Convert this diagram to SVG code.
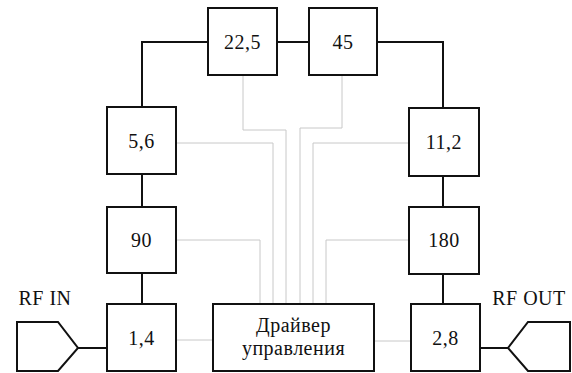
<svg xmlns="http://www.w3.org/2000/svg" width="572" height="373" viewBox="0 0 572 373">
<style>
.box{fill:#fff;stroke:#111;stroke-width:2}
.main{fill:none;stroke:#111;stroke-width:2}
.ctl{fill:none;stroke:#c8c8c8;stroke-width:1}
.t{font-size:20px;fill:#111;text-anchor:middle;letter-spacing:0.5px}
</style>
<rect width="572" height="373" fill="#fff"/>
<g id="connectors">
<path class="main" d="M142,304 V273 M142,207 V174 M142,107 V42 H208 M277,42 H309 M377,42 H443 V108 M443,176 V207 M443,274 V304"/>
<path class="main" d="M78,348 H107 M480,348 H508"/>
<path class="ctl" d="M176,143 H273 V304 M176,240 H260 V304 M243,75 V130 H286 V304 M342,75 V128 H300 V304 M409,143 H313 V304 M409,240 H326 V304 M176,340 H213 M374,341 H411"/>
</g>
<g font-family="Liberation Serif, Times New Roman, DejaVu Serif, serif">
<g id="rfin"><path class="main" d="M17,322 H58 L78,348 L58,371 H17 Z"/><text class="t" x="45" y="305">RF IN</text></g>
<g id="rfout"><path class="main" d="M570,322 H528 L508,348 L528,371 H570 Z"/><text class="t" x="529" y="305">RF OUT</text></g>
<g id="n225"><rect class="box" x="208" y="8" width="69" height="67"/><text class="t" x="242.5" y="49">22,5</text></g>
<g id="n45"><rect class="box" x="309" y="8" width="68" height="67"/><text class="t" x="343" y="49">45</text></g>
<g id="n56"><rect class="box" x="107" y="107" width="69" height="67"/><text class="t" x="141.5" y="148">5,6</text></g>
<g id="n90"><rect class="box" x="107" y="207" width="69" height="66"/><text class="t" x="141.5" y="247">90</text></g>
<g id="n14"><rect class="box" x="107" y="304" width="69" height="67"/><text class="t" x="141.5" y="345">1,4</text></g>
<g id="n112"><rect class="box" x="409" y="108" width="70" height="68"/><text class="t" x="444" y="149">11,2</text></g>
<g id="n180"><rect class="box" x="409" y="207" width="70" height="67"/><text class="t" x="444" y="247">180</text></g>
<g id="n28"><rect class="box" x="411" y="304" width="69" height="67"/><text class="t" x="445.5" y="345">2,8</text></g>
<g id="driver"><rect class="box" x="213" y="304" width="161" height="67"/><text class="t" x="293.5" y="332">Драйвер</text><text class="t" x="293.5" y="355">управления</text></g>
</g>
</svg>
